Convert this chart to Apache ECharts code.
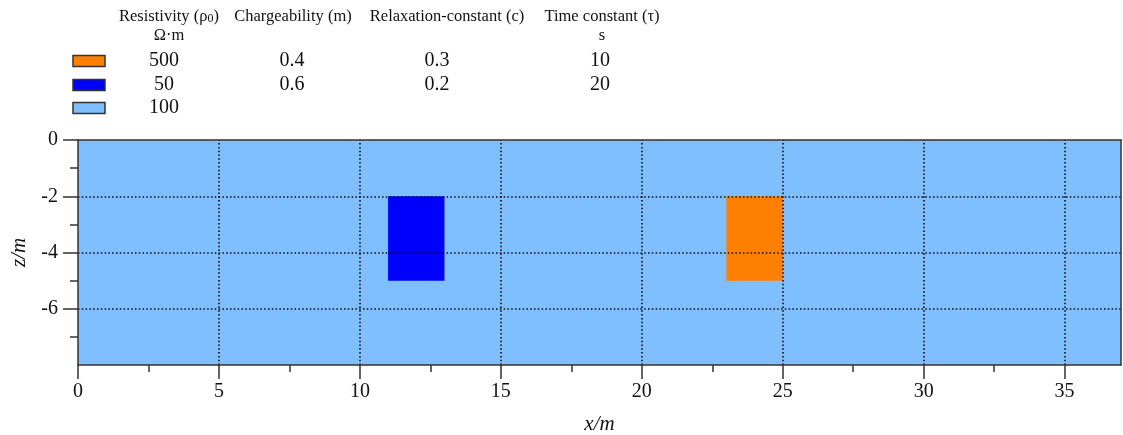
<!DOCTYPE html>
<html>
<head>
<meta charset="utf-8">
<script src="https://cdn.jsdelivr.net/npm/echarts@6/dist/echarts.min.js"></script>
<style>
  html, body { margin: 0; padding: 0; background: #fff; }
  #chart { width: 1123px; height: 435px; }
</style>
</head>
<body>
<div id="chart"></div>
<script>
// Model units: resistivity and Cole-Cole parameters
const resistivity = [500, 50, 100];
const chargeability = [0.4, 0.6];
const relaxation = [0.3, 0.2];
const timeConstant = [10, 20];
const unitColors = ['#FF8000', '#0000FF', '#80BFFF'];

// Geometry of each unit: [xStart, xEnd] and [zTop, zBottom] in metres
const unitX = [[23, 25], [11, 13], [0, 37]];
const unitZ = [[-2, -5], [-2, -5], [0, -8]];

// Axis ranges and ticks
const xRange = [0, 37];
const zRange = [-8, 0];
const xMajor = [0, 5, 10, 15, 20, 25, 30, 35];
const xMinor = [2.5, 7.5, 12.5, 17.5, 22.5, 27.5, 32.5];
const xGrid = [5, 10, 15, 20, 25, 30, 35];
const zMajor = [-6, -4, -2, 0];
const zMinor = [-7, -5, -3, -1];
const zGrid = [-6, -4, -2];

// Legend table headings
const headings = [
  { text: '{n|Resistivity (ρ}{s|0}{n|)}', unit: 'Ω·m' },
  { text: '{n|Chargeability (m)}', unit: '' },
  { text: '{n|Relaxation-constant (c)}', unit: '' },
  { text: '{n|Time constant (τ)}', unit: 's' }
];
const columns = [resistivity, chargeability, relaxation, timeConstant];

const FONT = '"Liberation Serif", "DejaVu Serif", serif';
const AXIS_COLOR = '#333';

// Draw units back-to-front: background half-space first, then the bodies
const order = [2, 1, 0];
const unitData = order.map(i => [unitX[i][0], unitX[i][1], unitZ[i][0], unitZ[i][1], i]);

// Legend layout
const headerCx = [169, 293, 447, 602];
const valueCx = [164, 292, 437, 600];
const headerY = 17, unitY = 36;
const rowY = [61, 85, 108];

const graphics = [];
headings.forEach((h, c) => {
  graphics.push({
    type: 'text', x: headerCx[c], y: headerY,
    style: {
      text: h.text, align: 'center', verticalAlign: 'middle',
      rich: {
        n: { fontFamily: FONT, fontSize: 16.5, fill: '#111' },
        s: { fontFamily: FONT, fontSize: 12, fill: '#111', padding: [3, 0, 0, 0] }
      }
    }
  });
  if (h.unit) {
    graphics.push({
      type: 'text', x: headerCx[c], y: unitY,
      style: { text: h.unit, align: 'center', verticalAlign: 'middle', fontFamily: FONT, fontSize: 16.5, fill: '#111' }
    });
  }
});
resistivity.forEach((v, r) => {
  graphics.push({
    type: 'rect', shape: { x: 73, y: rowY[r] - 5.5, width: 32, height: 11 },
    style: { fill: unitColors[r], stroke: '#333', lineWidth: 1.5 }
  });
});
columns.forEach((col, c) => {
  col.forEach((v, r) => {
    graphics.push({
      type: 'text', x: valueCx[c], y: rowY[r],
      style: { text: String(v), align: 'center', verticalAlign: 'middle', fontFamily: FONT, fontSize: 20, fill: '#111' }
    });
  });
});

const dotted = { color: '#0a0a0a', width: 1.6, type: [1.5, 2.3] };
const labelStyle = { fontFamily: FONT, fontSize: 20, color: '#111' };
const axisLineStyle = { show: true, onZero: false, lineStyle: { color: AXIS_COLOR, width: 1.5 } };
const hiddenLine = { show: false, onZero: false };
const noTicks = { show: false };

const chart = echarts.init(document.getElementById('chart'));
chart.setOption({
  animation: false,
  backgroundColor: '#fff',
  graphic: graphics,
  grid: { left: 78, right: 2, top: 140, bottom: 70, show: false, outerBoundsMode: 'none', containLabel: false },
  xAxis: [
    {
      // main bottom axis: line, major ticks, labels, name
      type: 'value', min: xRange[0], max: xRange[1], interval: 5, position: 'bottom', z: 6,
      name: 'x/m', nameLocation: 'middle', nameGap: 49,
      nameTextStyle: { fontFamily: FONT, fontSize: 21, fontStyle: 'italic', color: '#111' },
      axisLine: axisLineStyle,
      axisTick: { show: true, length: 14, customValues: xMajor, lineStyle: { color: AXIS_COLOR, width: 1.5 } },
      axisLabel: { margin: 17, customValues: xMajor, ...labelStyle },
      splitLine: { show: false }
    },
    {
      // minor ticks
      type: 'value', min: xRange[0], max: xRange[1], position: 'bottom', z: 5,
      axisLine: hiddenLine,
      axisTick: { show: true, length: 7, customValues: xMinor, lineStyle: { color: AXIS_COLOR, width: 1.5 } },
      axisLabel: { show: false },
      splitLine: { show: false }
    },
    {
      // top frame
      type: 'value', min: xRange[0], max: xRange[1], position: 'top', z: 6,
      axisLine: axisLineStyle,
      axisTick: noTicks, axisLabel: { show: false }, splitLine: { show: false }
    }
  ],
  yAxis: [
    {
      type: 'value', min: zRange[0], max: zRange[1], interval: 2, position: 'left', z: 6,
      name: 'z/m', nameLocation: 'middle', nameGap: 43, nameRotate: 90,
      nameTextStyle: { fontFamily: FONT, fontSize: 21, fontStyle: 'italic', color: '#111' },
      axisLine: axisLineStyle,
      axisTick: { show: true, length: 15, customValues: zMajor, lineStyle: { color: AXIS_COLOR, width: 1.5 } },
      axisLabel: { margin: 20, customValues: zMajor, ...labelStyle },
      splitLine: { show: false }
    },
    {
      type: 'value', min: zRange[0], max: zRange[1], position: 'left', z: 5,
      axisLine: hiddenLine,
      axisTick: { show: true, length: 8, customValues: zMinor, lineStyle: { color: AXIS_COLOR, width: 1.5 } },
      axisLabel: { show: false },
      splitLine: { show: false }
    },
    {
      type: 'value', min: zRange[0], max: zRange[1], position: 'right', z: 6,
      axisLine: axisLineStyle,
      axisTick: noTicks, axisLabel: { show: false }, splitLine: { show: false }
    }
  ],
  series: [{
    type: 'custom',
    xAxisIndex: 0, yAxisIndex: 0,
    z: 2,
    data: unitData,
    renderItem: function (params, api) {
      const p0 = api.coord([api.value(0), api.value(2)]);
      const p1 = api.coord([api.value(1), api.value(3)]);
      const x = Math.min(p0[0], p1[0]), y = Math.min(p0[1], p1[1]);
      return {
        type: 'rect',
        shape: { x: x, y: y, width: Math.abs(p1[0] - p0[0]), height: Math.abs(p1[1] - p0[1]) },
        style: { fill: unitColors[api.value(4)] }
      };
    },
    // dotted grid drawn over the model units
    markLine: {
      silent: true,
      symbol: 'none',
      z: 4,
      label: { show: false },
      lineStyle: dotted,
      data: xGrid.map(v => ({ xAxis: v })).concat(zGrid.map(v => ({ yAxis: v })))
    }
  }]
});
</script>
</body>
</html>
